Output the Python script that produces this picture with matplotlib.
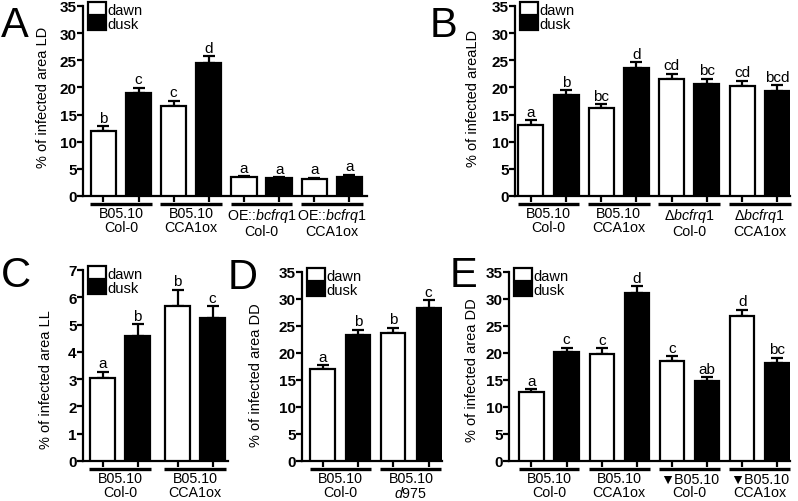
import matplotlib
matplotlib.use("Agg")
import matplotlib.pyplot as plt
from matplotlib.patches import Patch
import numpy as np

plt.rcParams['font.family'] = ['Liberation Sans', 'DejaVu Sans']
plt.rcParams['mathtext.fontset'] = 'custom'
plt.rcParams['mathtext.rm'] = 'Liberation Sans'
plt.rcParams['mathtext.it'] = 'Liberation Sans:italic'
plt.rcParams['mathtext.bf'] = 'Liberation Sans:bold'

# ---------------- data ----------------
A_groups = [("B05.10", "Col-0"), ("B05.10", "CCA1ox"),
            ("OE::$\\it{bcfrq1}$", "Col-0"), ("OE::$\\it{bcfrq1}$", "CCA1ox")]
A_dawn = [11.9, 16.6, 3.5, 3.2]
A_dawn_err = [1.0, 0.95, 0.2, 0.2]
A_dusk = [19.0, 24.5, 3.3, 3.5]
A_dusk_err = [0.95, 1.3, 0.15, 0.4]
A_dawn_letters = ['b', 'c', 'a', 'a']
A_dusk_letters = ['c', 'd', 'a', 'a']

B_groups = [("B05.10", "Col-0"), ("B05.10", "CCA1ox"),
            ("Δ$\\it{bcfrq1}$", "Col-0"), ("Δ$\\it{bcfrq1}$", "CCA1ox")]
B_dawn = [13.1, 16.2, 21.5, 20.3]
B_dawn_err = [0.85, 0.75, 1.0, 0.95]
B_dusk = [18.6, 23.6, 20.6, 19.3]
B_dusk_err = [0.85, 1.1, 1.0, 1.1]
B_dawn_letters = ['a', 'bc', 'cd', 'cd']
B_dusk_letters = ['b', 'd', 'bc', 'bcd']

C_groups = [("B05.10", "Col-0"), ("B05.10", "CCA1ox")]
C_dawn = [3.05, 5.68]
C_dawn_err = [0.22, 0.6]
C_dusk = [4.57, 5.25]
C_dusk_err = [0.45, 0.42]
C_dawn_letters = ['a', 'b']
C_dusk_letters = ['b', 'c']

D_groups = [("B05.10", "Col-0"), ("B05.10", "$\\it{d975}$")]
D_dawn = [17.0, 23.7]
D_dawn_err = [0.7, 1.0]
D_dusk = [23.4, 28.4]
D_dusk_err = [0.95, 1.4]
D_dawn_letters = ['a', 'b']
D_dusk_letters = ['b', 'c']

E_groups = [("B05.10", "Col-0"), ("B05.10", "CCA1ox"),
            ("▼B05.10", "Col-0"), ("▼B05.10", "CCA1ox")]
E_dawn = [12.7, 19.8, 18.6, 26.8]
E_dawn_err = [0.6, 1.1, 0.85, 1.25]
E_dusk = [20.2, 31.1, 14.8, 18.1]
E_dusk_err = [0.8, 1.3, 0.7, 1.05]
E_dawn_letters = ['a', 'c', 'c', 'd']
E_dusk_letters = ['c', 'd', 'ab', 'bc']

series_labels = ["dawn", "dusk"]

# ---------------- layout ----------------
W, H = 798, 502
fig = plt.figure(figsize=(W / 100, H / 100), dpi=100)

FS_TICK = 11
FS_LAB = 10.5
FS_GRP = 10.3
FS_LET = 11
FS_LEG = 10.5


def add_axes_px(l, r, t, b):
    return fig.add_axes([l / W, 1 - b / H, (r - l) / W, (b - t) / H])


def panel(ax, groups, dawn, dawn_err, dusk, dusk_err, dl, ul, ylabel,
          ymax, ystep, xlim, width, gap, ylabel_px, ax_px):
    n = len(groups)
    xd = np.array([g * (2 + gap) for g in range(n)])
    xu = xd + 1
    lw = 1.6
    ax.bar(xd, dawn, width, color='white', edgecolor='black', linewidth=lw, zorder=3)
    ax.bar(xu, dusk, width, color='black', edgecolor='black', linewidth=lw, zorder=3)
    zeros = np.zeros(n)
    ax.errorbar(xd, dawn, yerr=[zeros, dawn_err], fmt='none', ecolor='black',
                elinewidth=1.6, capsize=4.5, capthick=1.6, zorder=2)
    ax.errorbar(xu, dusk, yerr=[zeros, dusk_err], fmt='none', ecolor='black',
                elinewidth=1.6, capsize=4.5, capthick=1.6, zorder=2)
    for x, v, e, t in zip(xd, dawn, dawn_err, dl):
        ax.annotate(t, (x, v + e), xytext=(0, 1.0), textcoords='offset points',
                    ha='center', va='bottom', fontsize=FS_LET)
    for x, v, e, t in zip(xu, dusk, dusk_err, ul):
        ax.annotate(t, (x, v + e), xytext=(0, 1.0), textcoords='offset points',
                    ha='center', va='bottom', fontsize=FS_LET)
    ax.set_xlim(*xlim)
    ax.set_ylim(0, ymax)
    ticks = np.arange(0, ymax + ystep / 2, ystep)
    ax.set_yticks(ticks)
    ax.set_yticklabels([f"{int(v)}" for v in ticks], fontweight='bold',
                       fontsize=FS_TICK)
    ax.set_xticks(np.concatenate([xd, xu]))
    ax.set_xticklabels([])
    ax.tick_params(axis='y', length=4, width=1.6, pad=0.5, direction='out')
    ax.tick_params(axis='x', length=4.5, width=1.6, direction='out')
    for s in ['top', 'right']:
        ax.spines[s].set_visible(False)
    for s in ['left', 'bottom']:
        ax.spines[s].set_linewidth(1.6)
    ax.set_facecolor('none')
    # group lines and labels
    axh = ax_px[3] - ax_px[2]
    axw = ax_px[1] - ax_px[0]
    trans = ax.get_xaxis_transform()
    for i, (l1, l2) in enumerate(groups):
        x0 = xd[i] - width / 2 - 0.02
        x1 = xu[i] + width / 2 + 0.02
        ax.plot([x0, x1], [-7.5 / axh, -7.5 / axh], transform=trans, color='black',
                lw=2.4, solid_capstyle='butt', clip_on=False)
        ax.annotate(l1 + "\n" + l2, ((xd[i] + xu[i]) / 2, 0),
                    xycoords=trans, xytext=(0, -7.5), textcoords='offset points',
                    ha='center', va='top', fontsize=FS_GRP, linespacing=1.0)
    ax.set_ylabel(ylabel, fontsize=FS_LAB)
    ax.yaxis.set_label_coords((ylabel_px[0] - ax_px[0]) / axw,
                              (ax_px[3] - ylabel_px[1]) / axh)
    handles = [Patch(facecolor='white', edgecolor='black', linewidth=1.6),
               Patch(facecolor='black', edgecolor='black', linewidth=1.6)]
    ax.legend(handles, series_labels, loc='upper left', frameon=False,
              fontsize=FS_LEG, handlelength=1.25, handleheight=1.0,
              handletextpad=0.1, labelspacing=0.0, borderpad=0.0,
              borderaxespad=0.0, bbox_to_anchor=(5 / axw, 1.02))


A_px = (83, 367, 7, 197)
B_px = (515, 790, 7, 197)
C_px = (83, 228, 271, 462)
D_px = (302, 442, 273, 462)
E_px = (509, 790, 273, 462)

axA = add_axes_px(*A_px)
panel(axA, A_groups, A_dawn, A_dawn_err, A_dusk, A_dusk_err, A_dawn_letters,
      A_dusk_letters, "% of infected area LD", 35, 5, (-0.58, 7.5), 0.72, 0,
      (50, 97), A_px)

axB = add_axes_px(*B_px)
panel(axB, B_groups, B_dawn, B_dawn_err, B_dusk, B_dusk_err, B_dawn_letters,
      B_dusk_letters, "% of infected areaLD", 35, 5, (-0.45, 7.36), 0.71, 0,
      (480, 98), B_px)

axC = add_axes_px(*C_px)
panel(axC, C_groups, C_dawn, C_dawn_err, C_dusk, C_dusk_err, C_dawn_letters,
      C_dusk_letters, "% of infected area LL", 7, 1, (-0.56, 3.58), 0.71, 0.14,
      (53, 380), C_px)

axD = add_axes_px(*D_px)
panel(axD, D_groups, D_dawn, D_dawn_err, D_dusk, D_dusk_err, D_dawn_letters,
      D_dusk_letters, "% of infected area DD", 35, 5, (-0.58, 3.38), 0.68, 0,
      (263, 375), D_px)

axE = add_axes_px(*E_px)
panel(axE, E_groups, E_dawn, E_dawn_err, E_dusk, E_dusk_err, E_dawn_letters,
      E_dusk_letters, "% of infected area DD", 35, 5, (-0.64, 7.36), 0.69, 0,
      (479, 370), E_px)

for letter, x, y in [("A", 1, 37), ("B", 430, 37), ("C", 1, 287), ("D", 228, 289), ("E", 450, 287)]:
    fig.text(x / W, 1 - y / H, letter, fontsize=30, ha='left', va='baseline')

fig.savefig("out.png", dpi=100)
